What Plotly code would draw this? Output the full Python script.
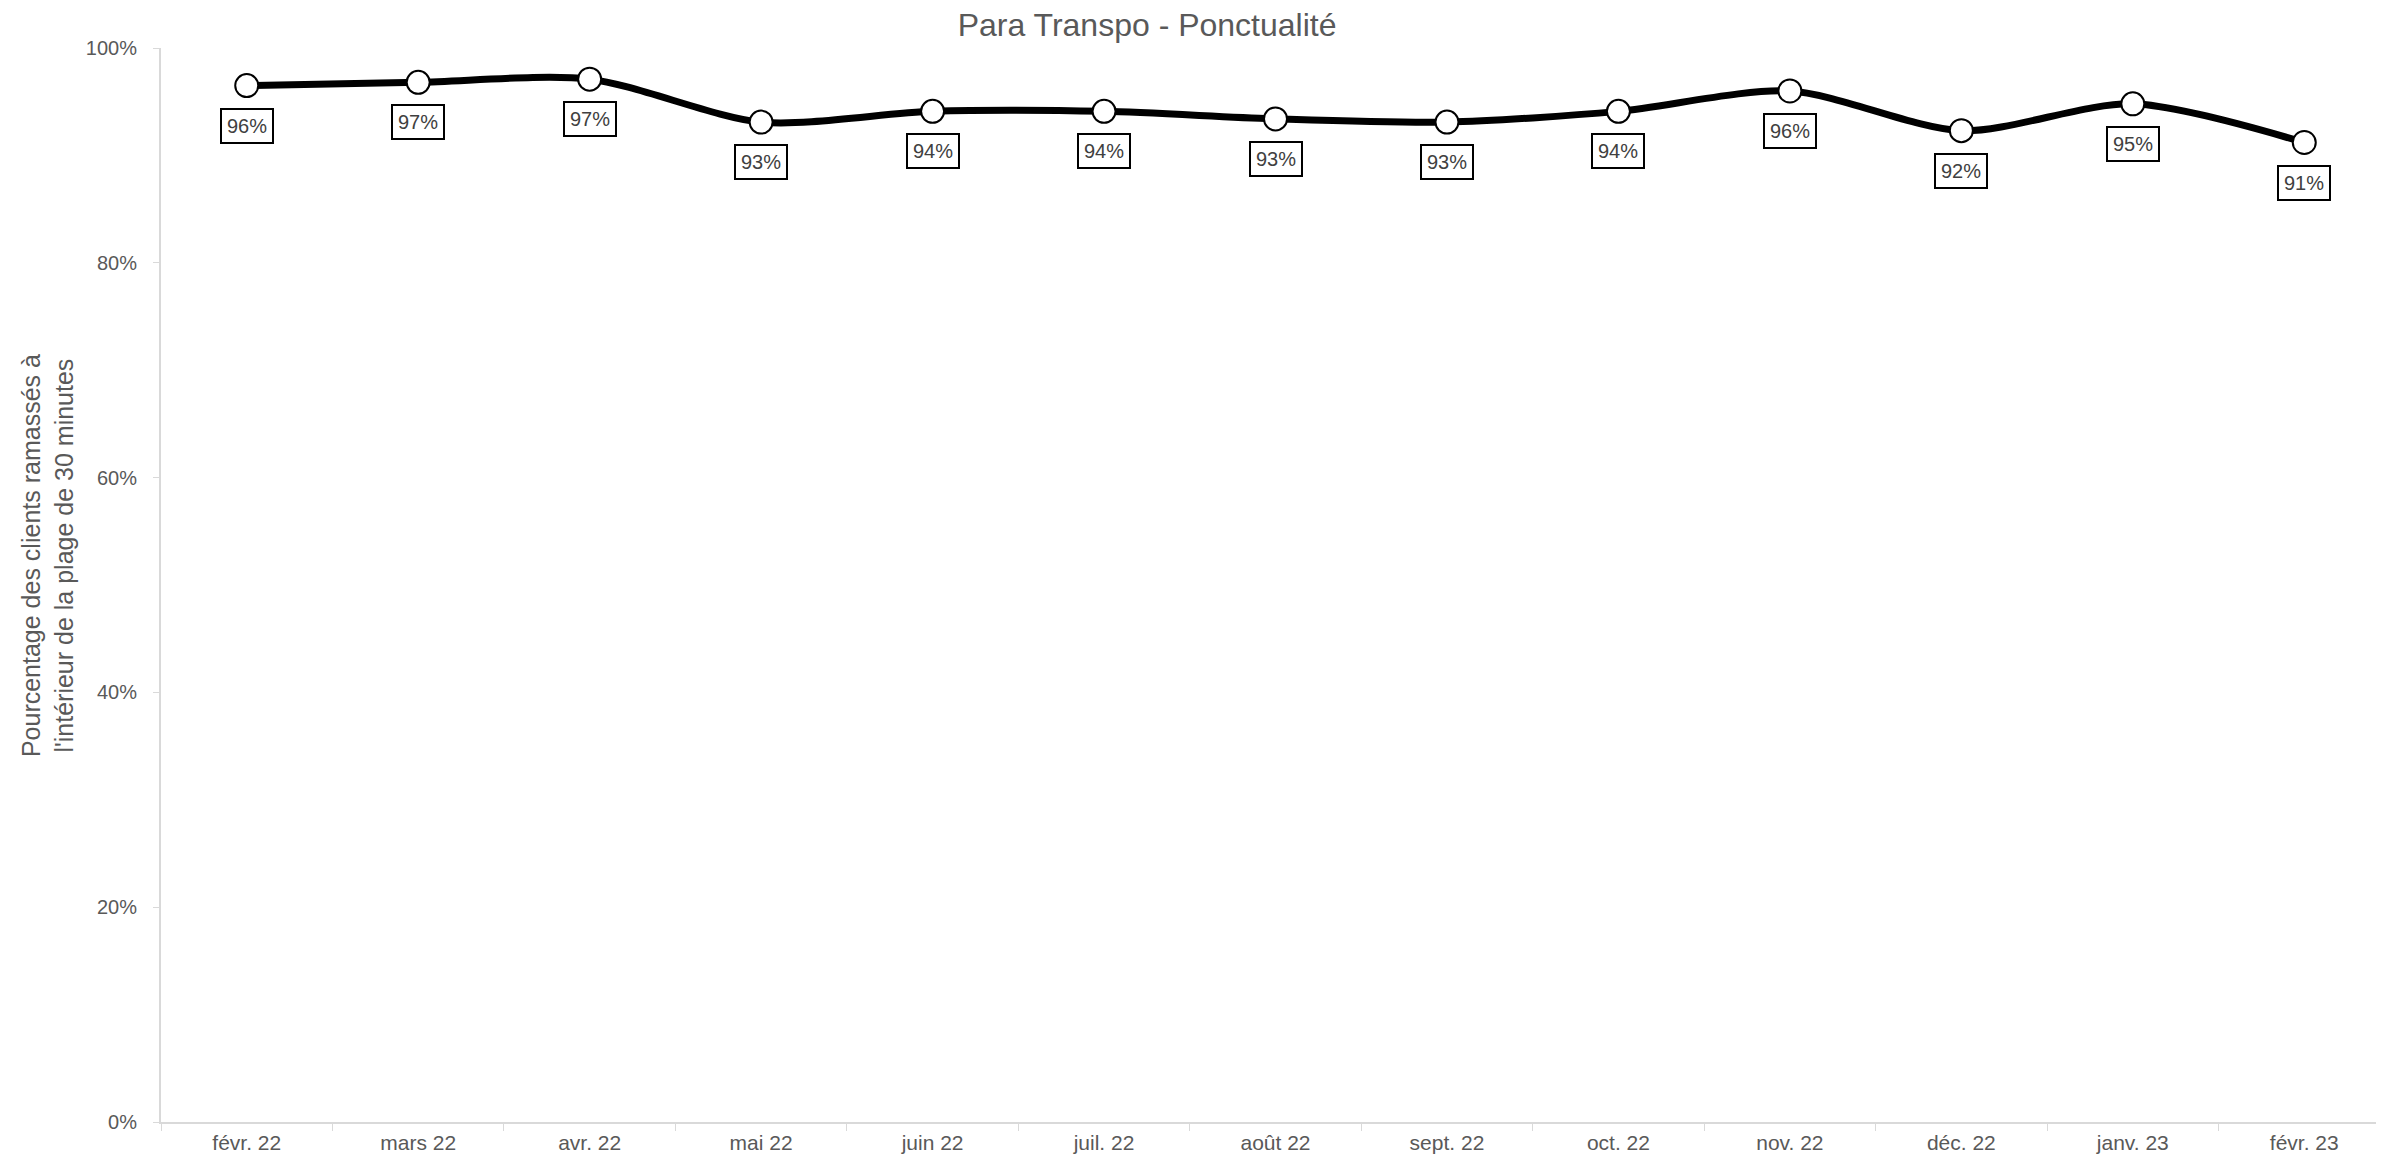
import plotly.graph_objects as go

months = ["févr. 22", "mars 22", "avr. 22", "mai 22", "juin 22", "juil. 22", "août 22",
          "sept. 22", "oct. 22", "nov. 22", "déc. 22", "janv. 23", "févr. 23"]
ponctualite = [0.965, 0.968, 0.971, 0.931, 0.941, 0.941, 0.934,
               0.931, 0.941, 0.960, 0.923, 0.948, 0.912]
y_ticks = [0, 0.2, 0.4, 0.6, 0.8, 1.0]

FONT = "Liberation Sans, Arial"
GREY = "#595959"

fig = go.Figure()
fig.add_trace(go.Scatter(
    x=months, y=ponctualite, mode="lines+markers",
    line=dict(color="black", width=7, shape="spline", smoothing=0.8),
    marker=dict(size=23, color="white", line=dict(color="black", width=2)),
    showlegend=False, hoverinfo="x+y",
))

for m, v in zip(months, ponctualite):
    fig.add_annotation(
        x=m, y=v, text=f"{round(v*100):d}%", showarrow=False,
        yshift=-40, font=dict(family=FONT, size=20, color="#404040"),
        bgcolor="white", bordercolor="black", borderwidth=2, borderpad=5,
    )

fig.add_annotation(
    xref="paper", yref="paper", x=-0.0511, y=0.527, xanchor="center", yanchor="middle",
    text="Pourcentage des clients ramassés à<br>l'intérieur de la plage de 30 minutes",
    textangle=-90, showarrow=False, font=dict(family=FONT, size=25, color=GREY),
)

fig.update_layout(
    width=2384, height=1159,
    margin=dict(l=153, r=2, t=40, b=45),
    paper_bgcolor="white", plot_bgcolor="white",
    title=dict(text="Para Transpo - Ponctualité", x=0.4778, xanchor="center",
               y=1 - 17 / 1159, yanchor="middle",
               font=dict(family=FONT, size=32, color=GREY)),
    font=dict(family=FONT, color=GREY),
    xaxis=dict(
        type="category", range=[-0.5, 12.5], automargin=False,
        showline=True, linecolor="#d9d9d9", linewidth=2,
        ticks="outside", tickson="boundaries", ticklen=7, tickcolor="#d9d9d9",
        ticklabelstandoff=1,
        tickfont=dict(size=21, color=GREY), showgrid=False, zeroline=False,
    ),
    yaxis=dict(
        range=[0, 1.0], tickvals=y_ticks, tickformat=".0%", automargin=False,
        showline=True, linecolor="#d9d9d9", linewidth=2,
        ticks="outside", ticklen=6, tickcolor="#d9d9d9", ticklabelstandoff=12,
        tickfont=dict(size=20, color=GREY), showgrid=False, zeroline=False,
    ),
)

fig.write_html("out.html")
